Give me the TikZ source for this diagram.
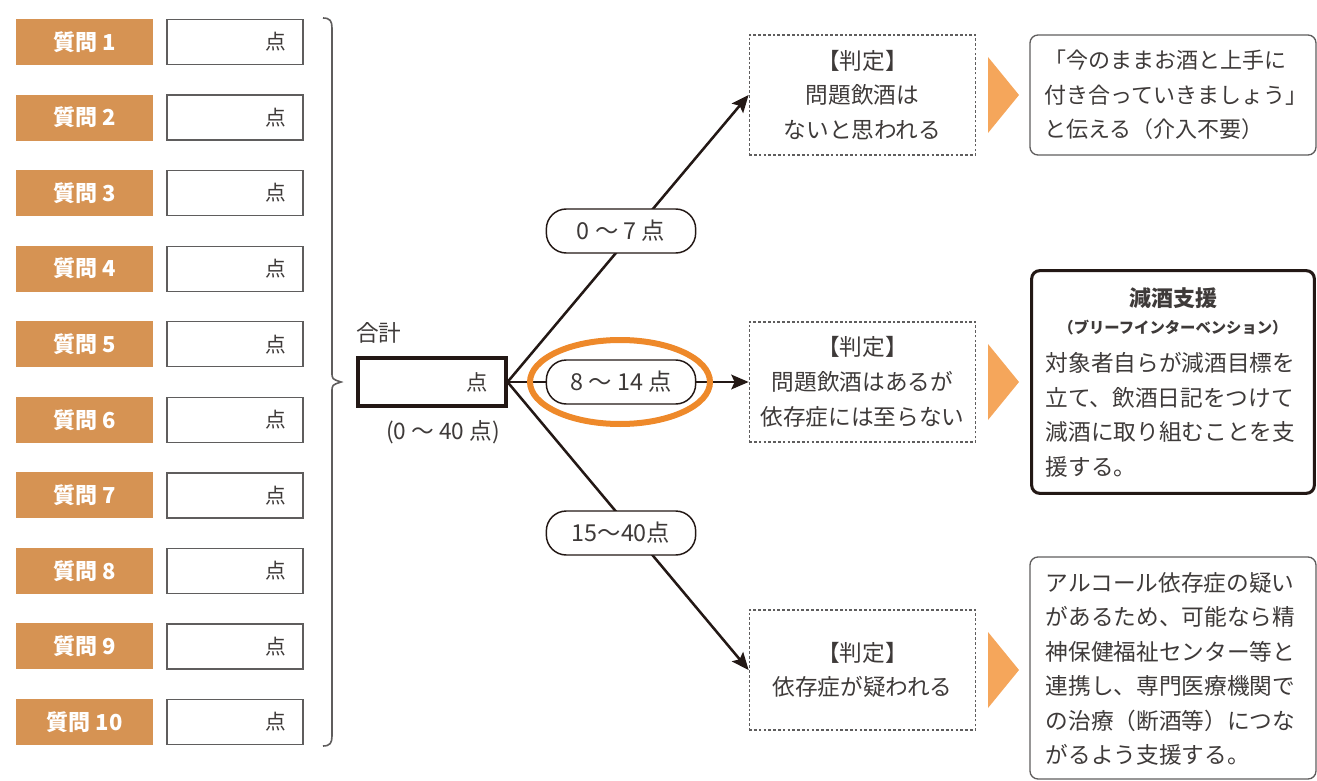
\documentclass[tikz,border=0pt]{standalone}
\usepackage{fontspec}
\setmainfont{Noto Sans CJK JP}
\usetikzlibrary{arrows.meta}
\definecolor{qorange}{RGB}{214,147,83}
\definecolor{hlorange}{RGB}{238,137,42}
\definecolor{triorange}{RGB}{245,166,91}
\definecolor{txt}{RGB}{62,58,57}
\definecolor{ink}{RGB}{35,24,21}
\definecolor{frame}{RGB}{95,93,93}
\begin{document}
\begin{tikzpicture}[x=0.75pt,y=-0.75pt,
  qbox/.style={fill=qorange,text=white,font=\bfseries\fontsize{16.5}{18}\selectfont,
    minimum width=102.75pt,minimum height=34.5pt,inner sep=0pt},
  sbox/.style={draw=frame,line width=1pt,fill=white,minimum width=102pt,minimum height=33.75pt,
    inner sep=0pt,text width=77pt,align=right,text=txt,font=\fontsize{15.5}{17}\selectfont},
  totbox/.style={draw=ink,line width=2.3pt,minimum width=111pt,minimum height=36pt,
    inner sep=0pt,text width=84pt,align=right,text=txt,font=\fontsize{16}{18}\selectfont},
  plain/.style={text=txt,inner sep=0pt,font=\fontsize{17}{19}\selectfont},
  jbox/.style={draw=frame,line width=0.8pt,dash pattern=on 2pt off 1.6pt,
    minimum width=170pt,minimum height=90pt,align=center,inner sep=0pt,text=txt,
    font=\fontsize{17}{26}\selectfont},
  lbl/.style={draw=ink,line width=1.1pt,fill=white,rounded corners=15pt,
    minimum width=112pt,minimum height=33pt,inner sep=0pt,text=txt,
    font=\fontsize{17.5}{19}\selectfont},
  conn/.style={draw=ink,line width=1.9pt,-{Stealth[length=13pt,width=11pt,inset=2.5pt]}},
  rbox/.style={draw=frame,line width=1pt,rounded corners=6pt,minimum width=214.5pt,
    inner sep=0pt,text=txt},
  body/.style={text width=191pt,align=left,inner sep=0pt,text=txt,font=\fontsize{17}{26}\selectfont},
  tri/.style={fill=triorange}
]
\useasboundingbox (0,0) rectangle (1317,781);

% question column
\foreach \i in {1,...,10} {
  \pgfmathsetmacro\yy{42+75.56*(\i-1)}
  \node[qbox] (q\i) at (84.5,\yy) {質問 \i};
  \node[sbox] (s\i) at (235,\yy) {点};
}

% brace
\draw[frame,line width=1.2pt] (323,18) .. controls (330,18) and (332,21) .. (332,28)
  -- (332,372) .. controls (332,379) .. (341,382) .. controls (332,385) .. (332,392)
  -- (332,736) .. controls (332,743) and (330,746) .. (323,746);

% total
\node[totbox] (total) at (432,382) {点};
\node[plain,anchor=west] (gokei) at (356,333) {合計};
\node[plain] (range) at (443,432) {(0 ～ 40 点)};

% judgement boxes
\node[jbox] (j1) at (862.5,95) {【判定】\\問題飲酒は\\ないと思われる};
\node[jbox] (j2) at (862.5,382) {【判定】\\問題飲酒はあるが\\依存症には至らない};
\node[jbox] (j3) at (862.5,670) {【判定】\\依存症が疑われる};

% connectors
\draw[conn] (total.east) -- (j1.west);
\draw[conn] (total.east) -- (j2.west);
\draw[conn] (total.east) -- (j3.west);

% range labels
\node[lbl] (l1) at (621,231) {0 ～ 7 点};
\node[lbl] (l2) at (621,382) {8 ～ 14 点};
\node[lbl] (l3) at (621,533) {15～40点};

% highlight
\draw[hlorange,line width=4.5pt] (620,382) ellipse [x radius=67.5pt, y radius=31.5pt];

% triangles
\fill[tri] (988,57) -- (1019,95) -- (988,133) -- cycle;
\fill[tri] (988,344) -- (1019,382) -- (988,420) -- cycle;
\fill[tri] (988,632) -- (1019,670) -- (988,708) -- cycle;

% result boxes
\node[rbox,minimum height=90pt,text width=193pt,align=left,font=\fontsize{16.5}{26}\selectfont]
  (r1) at (1173,95) {「今のままお酒と上手に\\付き合っていきましょう」\\と伝える（介入不要）};
\node[rbox,draw=ink,line width=2.3pt,minimum width=212pt,minimum height=167pt] (r2) at (1173,382) {};
\node[text=txt,inner sep=0pt,font=\bfseries\fontsize{16.5}{18}\selectfont] (r2t) at (1173,298) {減酒支援};
\node[text=txt,inner sep=0pt,font=\bfseries\fontsize{11.5}{13}\selectfont] (r2s) at (1173,328) {（ブリーフインターベンション）};
\node[body] (r2b) at (1173,415) {対象者自らが減酒目標を\\立て、飲酒日記をつけて\\減酒に取り組むことを支\\援する。};
\node[rbox,minimum height=166.5pt] (r3) at (1173,668) {};
\node[body,font=\fontsize{17}{25.8}\selectfont] (r3b) at (1173,669) {アルコール依存症の疑い\\があるため、可能なら精\\神保健福祉センター等と\\連携し、専門医療機関で\\の治療（断酒等）につな\\がるよう支援する。};
\end{tikzpicture}
\end{document}
